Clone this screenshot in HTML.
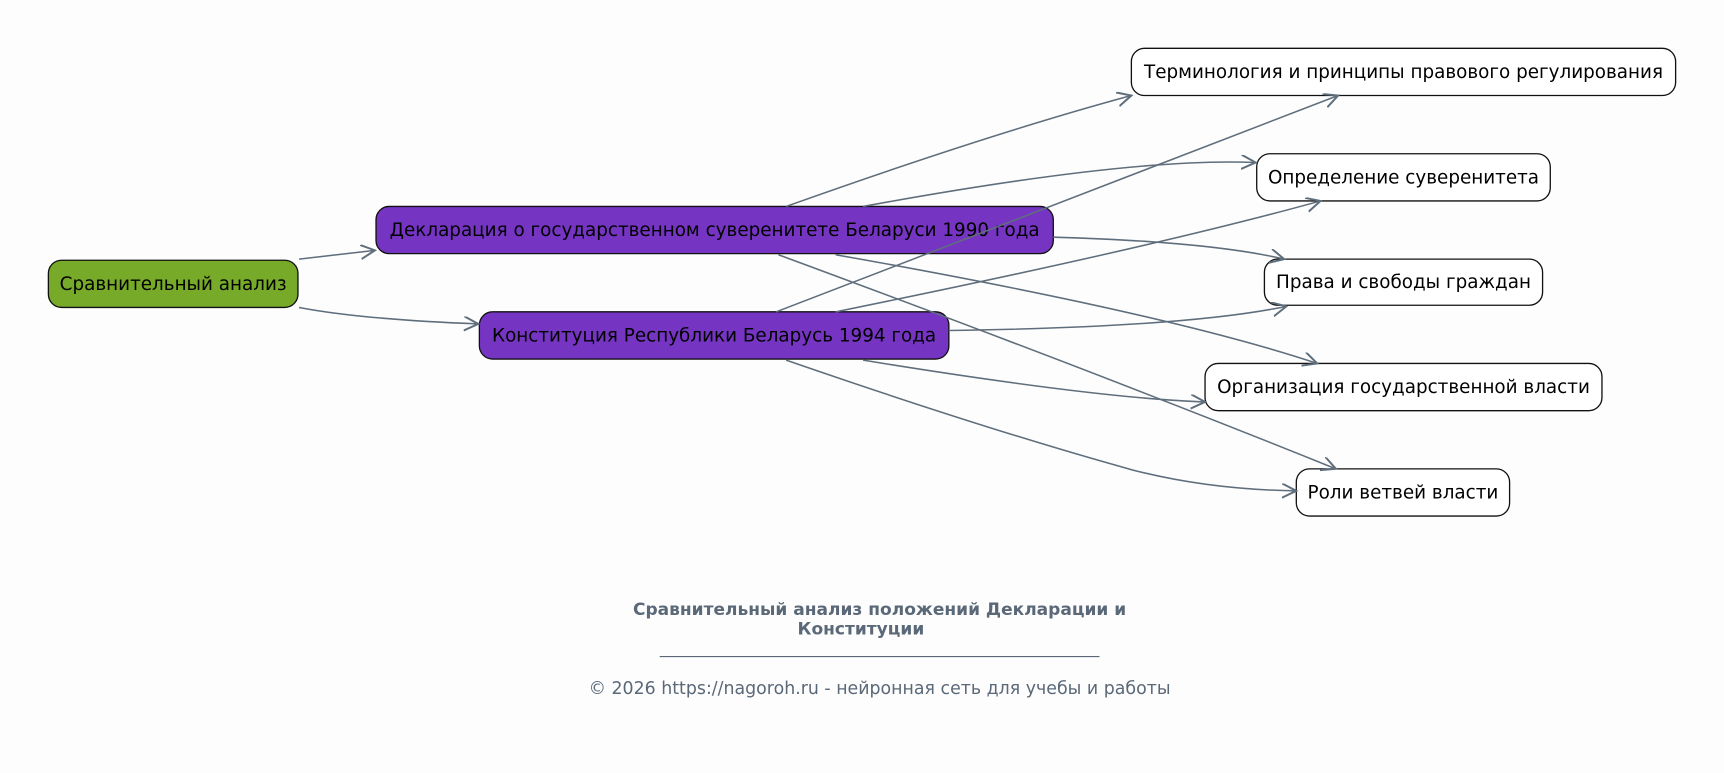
<!DOCTYPE html>
<html><head><meta charset="utf-8"><style>
html,body{margin:0;padding:0;background:#fdfdfd;}
svg{display:block}
text{font-family:"DejaVu Sans","Liberation Sans",sans-serif;}
</style></head><body>
<svg width="1724" height="773" viewBox="0 0 1568 704" preserveAspectRatio="none" xmlns="http://www.w3.org/2000/svg">
<defs><marker id="a" markerWidth="16" markerHeight="16" refX="13" refY="6.5" orient="auto" markerUnits="userSpaceOnUse"><path d="M0,0 L13,6.5 L0,13" fill="none" stroke="#5f6e7c" stroke-width="1.8"/></marker></defs>
<rect width="1568" height="704" fill="#fdfdfd"/>
<g stroke="#111" stroke-width="1.2">
<rect x="44" y="237" width="227" height="43" rx="12" fill="#78aa2a"/>
<rect x="342" y="188" width="616" height="43" rx="12" fill="#7535c2"/>
<rect x="436" y="284" width="427" height="43" rx="12" fill="#7535c2"/>
<rect x="1029" y="44" width="495" height="43" rx="12" fill="#fff"/>
<rect x="1143" y="140" width="267" height="43" rx="12" fill="#fff"/>
<rect x="1150" y="236" width="253" height="42" rx="12" fill="#fff"/>
<rect x="1096" y="331" width="361" height="43" rx="12" fill="#fff"/>
<rect x="1179" y="427" width="194" height="43" rx="12" fill="#fff"/>
</g>
<g font-size="16.7" fill="#000" text-anchor="middle">
<text x="157.5" y="264">Сравнительный анализ</text>
<text x="650" y="215">Декларация о государственном суверенитете Беларуси 1990 года</text>
<text x="649.5" y="311">Конституция Республики Беларусь 1994 года</text>
<text x="1276.5" y="71">Терминология и принципы правового регулирования</text>
<text x="1276.5" y="167">Определение суверенитета</text>
<text x="1276.5" y="262.5">Права и свободы граждан</text>
<text x="1276.5" y="358">Организация государственной власти</text>
<text x="1276" y="454">Роли ветвей власти</text>
</g>
<g fill="none" stroke="#5f6e7c" stroke-width="1.4" marker-end="url(#a)">
<path d="M272,236 L341,228"/>
<path d="M272,280 Q330,291 435,295"/>
<path d="M715,188 Q900,122 1029,87"/>
<path d="M785,188 Q1030,143 1142,148"/>
<path d="M958,216 Q1100,220 1168,236"/>
<path d="M760,232 Q1060,285 1198,331"/>
<path d="M708,232 Q1000,340 1215,427"/>
<path d="M706,284 Q1000,170 1217,87"/>
<path d="M760,284 Q1050,225 1201,183"/>
<path d="M863,301 Q1080,298 1170,279"/>
<path d="M785,328 Q1000,363 1096,366"/>
<path d="M715,328 Q900,392 1030,428 Q1100,446 1179,447"/>
</g>
<g fill="#5a6878" text-anchor="middle">
<text x="800" y="560" font-size="15.5" font-weight="bold">Сравнительный анализ положений Декларации и</text>
<text x="783" y="578" font-size="15.5" font-weight="bold">Конституции</text>
<line x1="600" y1="598" x2="1000" y2="598" stroke="#5a6878" stroke-width="1"/>
<text x="800" y="632" font-size="15.8">© 2026 https://nagoroh.ru - нейронная сеть для учебы и работы</text>
</g>
</svg>
</body></html>
